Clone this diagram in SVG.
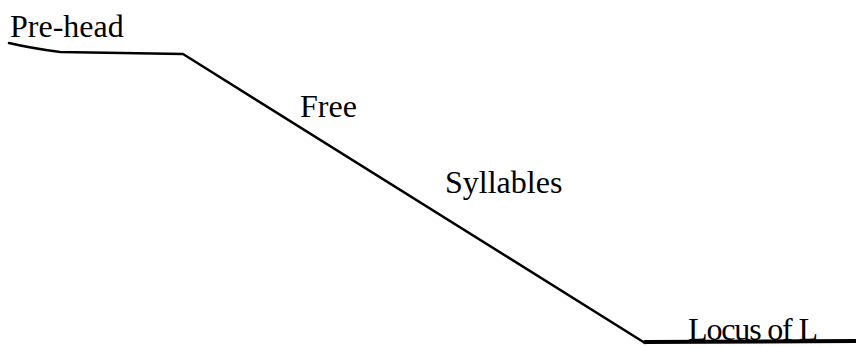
<svg xmlns="http://www.w3.org/2000/svg" width="856" height="347" viewBox="0 0 856 347">
<style>
.t{font-family:"Liberation Serif","Times New Roman",serif;font-size:32px;fill:#000}
.ln{fill:none;stroke:#000;stroke-linejoin:round;stroke-linecap:round}
</style>
<rect width="856" height="347" fill="#fff"/>
<g id="connectors">
<path class="ln" stroke-width="2.5" d="M9,43 Q30,48 60,52 L183,54 L645,343"/>
<path class="ln" stroke-width="4" stroke-linecap="butt" d="M645,342 L856,341"/>
</g>
<g id="prehead"><text class="t" x="10" y="37">Pre-head</text></g>
<g id="free"><text class="t" x="300" y="117">Free</text></g>
<g id="syllables"><text class="t" x="445" y="193">Syllables</text></g>
<g id="locus"><text class="t" x="688" y="340" textLength="130">Locus of L</text></g>
</svg>
